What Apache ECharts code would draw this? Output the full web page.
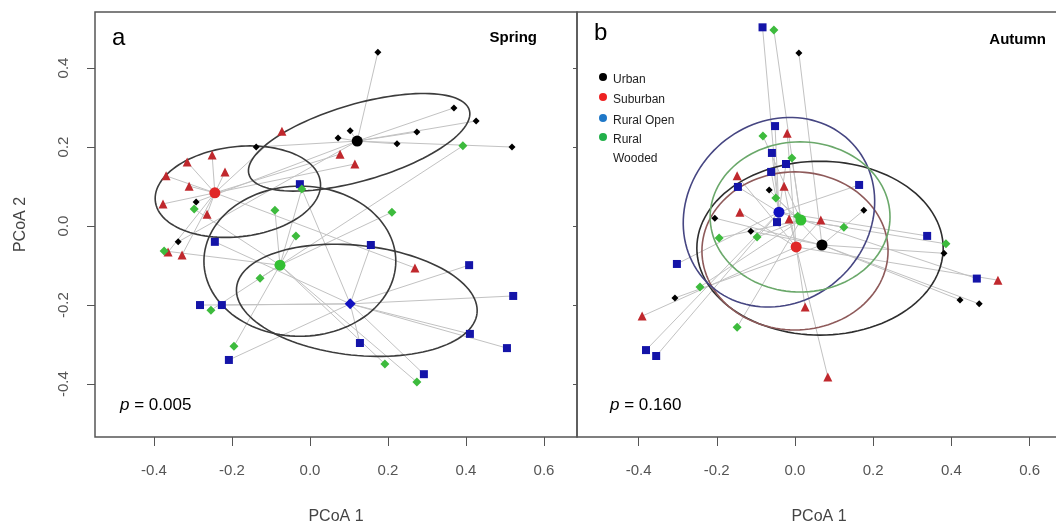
<!DOCTYPE html>
<html>
<head>
<meta charset="utf-8">
<script src="https://cdn.jsdelivr.net/npm/echarts@6/dist/echarts.min.js"></script>
<style>
html, body { margin: 0; padding: 0; background: #fff; }
#chart { width: 1056px; height: 524px; }
</style>
</head>
<body>
<div id="chart"></div>
<script>
const groupNames = ['Urban', 'Suburban', 'Rural Open', 'Rural Wooded'];
const tickValues = [-0.4, -0.2, 0.0, 0.2, 0.4, 0.6];

// spring (a) - [PCoA 1, PCoA 2]
const springUrban = [[0.174, 0.44], [0.369, 0.299], [0.426, 0.266], [0.274, 0.238], [0.103, 0.241], [0.072, 0.223],
  [0.223, 0.208], [0.518, 0.2], [-0.138, 0.2], [-0.292, 0.061], [-0.338, -0.04]];
const springSuburban = [[-0.072, 0.24], [0.077, 0.182], [0.115, 0.157], [-0.251, 0.18], [-0.315, 0.162], [-0.369, 0.127],
  [-0.218, 0.137], [-0.31, 0.101], [-0.377, 0.056], [-0.264, 0.03], [-0.364, -0.066], [-0.328, -0.073], [0.269, -0.106]];
const springRuralOpen = [[-0.026, 0.106], [-0.244, -0.04], [0.156, -0.048], [0.408, -0.099], [0.521, -0.177], [-0.282, -0.2],
  [-0.226, -0.2], [-0.208, -0.339], [0.41, -0.273], [0.505, -0.309], [0.128, -0.296], [0.292, -0.375]];
const springRuralWooded = [[0.392, 0.203], [-0.297, 0.043], [-0.021, 0.094], [-0.09, 0.04], [0.21, 0.035], [-0.036, -0.025],
  [-0.374, -0.063], [-0.128, -0.132], [-0.254, -0.213], [-0.195, -0.304], [0.192, -0.349], [0.274, -0.395]];
const springCentroids = [[0.121, 0.215], [-0.244, 0.084], [0.103, -0.197], [-0.077, -0.099]];
// [cx, cy, semi axis 1, semi axis 2, angle deg]
const springEllipses = [[0.126, 0.212, 0.294, 0.097, 16], [-0.185, 0.087, 0.213, 0.114, 6.5],
  [0.12, -0.188, 0.31, 0.139, -6], [-0.026, -0.089, 0.246, 0.19, 0]];

// autumn (b)
const autumnUrban = [[0.01, 0.438], [-0.066, 0.091], [-0.205, 0.02], [0.176, 0.04], [-0.113, -0.013], [-0.307, -0.182],
  [0.381, -0.069], [0.422, -0.187], [0.471, -0.197]];
const autumnSuburban = [[-0.02, 0.235], [-0.148, 0.127], [-0.028, 0.101], [-0.141, 0.035], [-0.015, 0.018], [0.066, 0.015],
  [0.026, -0.205], [-0.391, -0.228], [0.519, -0.137], [0.084, -0.382]];
const autumnRuralOpen = [[-0.083, 0.503], [-0.051, 0.253], [-0.059, 0.185], [-0.023, 0.157], [-0.061, 0.137], [-0.146, 0.099],
  [-0.046, 0.01], [0.164, 0.104], [-0.302, -0.096], [0.338, -0.025], [0.465, -0.133], [-0.381, -0.314], [-0.355, -0.329]];
const autumnRuralWooded = [[-0.054, 0.496], [-0.082, 0.228], [-0.008, 0.172], [-0.049, 0.071], [0.007, 0.025], [0.125, -0.003],
  [-0.194, -0.03], [-0.097, -0.028], [-0.243, -0.154], [-0.148, -0.256], [0.386, -0.045]];
const autumnCentroids = [[0.069, -0.048], [0.003, -0.053], [-0.041, 0.035], [0.015, 0.015]];
const autumnEllipses = [[0.064, -0.056, 0.315, 0.22, 0], [0.0, -0.063, 0.238, 0.2, 0],
  [-0.041, 0.035, 0.256, 0.228, 40], [0.013, 0.023, 0.23, 0.19, 0]];

const pointSymbols = ['diamond', 'triangle', 'rect', 'diamond'];
const pointSizes = [7, 9, 8, 9];
const pointColors = ['#000000', '#c0282d', '#1414a8', '#3dbb3d'];
const springCentroidSymbols = ['circle', 'circle', 'diamond', 'circle'];
const centroidColors = ['#000000', '#e02828', '#1010c0', '#33c033'];
const springEllColors = ['#3c3c3c', '#3c3c3c', '#3c3c3c', '#3c3c3c'];
const autumnEllColors = ['#2e2e2e', '#8e5a5a', '#464682', '#6aa86a'];

const FONT = "'Liberation Sans Narrow', 'Liberation Sans', Arial, sans-serif";

function panelSeries(idx, groups, centroids, ellipses, ellColors, centSymbols) {
  const series = [];
  // spokes from group centroid to each sample
  const spokes = [];
  groups.forEach((pts, g) => {
    pts.forEach(p => spokes.push({ coords: [centroids[g], p] }));
  });
  series.push({
    type: 'lines', coordinateSystem: 'cartesian2d',
    xAxisIndex: idx, yAxisIndex: idx, silent: true, z: 1,
    lineStyle: { color: '#c2c2c2', width: 1, opacity: 1 },
    data: spokes
  });
  series.push({
    type: 'custom', xAxisIndex: idx, yAxisIndex: idx, silent: true, z: 3, clip: true,
    data: ellipses, encode: { x: 0, y: 1 },
    renderItem: function (params, api) {
      const e = ellipses[params.dataIndex];
      const th = e[4] * Math.PI / 180;
      const pts = [];
      for (let k = 0; k <= 120; k++) {
        const t = 2 * Math.PI * k / 120;
        const u = e[2] * Math.cos(t), v = e[3] * Math.sin(t);
        pts.push(api.coord([e[0] + u * Math.cos(th) - v * Math.sin(th),
                            e[1] + u * Math.sin(th) + v * Math.cos(th)]));
      }
      return {
        type: 'polyline', shape: { points: pts },
        style: { stroke: ellColors[params.dataIndex], fill: null, lineWidth: 1.6 }
      };
    }
  });
  groups.forEach((pts, g) => {
    series.push({
      type: 'scatter', name: groupNames[g], xAxisIndex: idx, yAxisIndex: idx, z: 4,
      symbol: pointSymbols[g], symbolSize: pointSizes[g],
      itemStyle: { color: pointColors[g], opacity: 1 },
      data: pts
    });
  });
  series.push({
    type: 'scatter', xAxisIndex: idx, yAxisIndex: idx, z: 5,
    data: centroids.map((c, g) => ({
      value: c, symbol: centSymbols[g], symbolSize: 11,
      itemStyle: { color: centroidColors[g], opacity: 1 }
    }))
  });
  return series;
}

function xAxisFor(idx, min, max) {
  return {
    type: 'value', gridIndex: idx, min: min, max: max,
    name: 'PCoA 1', nameLocation: 'middle', nameGap: 72,
    nameTextStyle: { color: '#444', fontSize: 16, fontFamily: FONT },
    axisLine: { show: false, onZero: false },
    axisTick: { show: true, length: 9, lineStyle: { color: '#555' }, customValues: tickValues },
    axisLabel: {
      color: '#555', fontSize: 15, fontFamily: FONT, margin: 26,
      customValues: tickValues, formatter: v => v.toFixed(1)
    },
    splitLine: { show: false }
  };
}

function yAxisFor(idx, showLabels) {
  return {
    type: 'value', gridIndex: idx, min: -0.534, max: 0.5418,
    name: showLabels ? 'PCoA 2' : '', nameLocation: 'middle', nameGap: 66, nameRotate: 90,
    nameTextStyle: { color: '#444', fontSize: 16, fontFamily: FONT },
    axisLine: { show: false, onZero: false },
    axisTick: { show: true, length: showLabels ? 8 : 4, lineStyle: { color: '#555' },
      customValues: [-0.4, -0.2, 0.0, 0.2, 0.4] },
    axisLabel: {
      show: showLabels, color: '#555', fontSize: 15, fontFamily: FONT, margin: 24, rotate: 90,
      customValues: [-0.4, -0.2, 0.0, 0.2, 0.4], formatter: v => v.toFixed(1)
    },
    splitLine: { show: false }
  };
}

const legendItems = [
  { label: 'Urban', color: '#000000', y: 77 },
  { label: 'Suburban', color: '#ee2222', y: 97 },
  { label: 'Rural Open', color: '#1f78c8', y: 118 },
  { label: 'Rural\nWooded', color: '#22b04a', y: 137 }
];
const legendGraphics = [];
legendItems.forEach(it => {
  legendGraphics.push({ type: 'circle', shape: { cx: 603, cy: it.y, r: 4 }, style: { fill: it.color } });
  legendGraphics.push({
    type: 'text', x: 613, y: it.y - 7,
    style: { text: it.label, fill: '#222', font: "12px 'Liberation Sans', Arial", lineHeight: 19, textVerticalAlign: 'top' }
  });
});

const chart = echarts.init(document.getElementById('chart'));
const option = {
  animation: false,
  backgroundColor: '#fff',
  grid: [
    { left: 95, top: 12, width: 482, height: 425, show: true, borderColor: '#555', borderWidth: 1.5, outerBoundsMode: 'none' },
    { left: 577, top: 12, width: 484, height: 425, show: true, borderColor: '#555', borderWidth: 1.5, outerBoundsMode: 'none' }
  ],
  xAxis: [xAxisFor(0, -0.5513, 0.6846), xAxisFor(1, -0.5575, 0.6803)],
  yAxis: [yAxisFor(0, true), yAxisFor(1, false)],
  series: [
    ...panelSeries(0, [springUrban, springSuburban, springRuralOpen, springRuralWooded],
      springCentroids, springEllipses, springEllColors, springCentroidSymbols),
    ...panelSeries(1, [autumnUrban, autumnSuburban, autumnRuralOpen, autumnRuralWooded],
      autumnCentroids, autumnEllipses, autumnEllColors, ['circle', 'circle', 'circle', 'circle'])
  ],
  graphic: [
    { type: 'text', x: 112, y: 26, style: { text: 'a', fill: '#000', font: "24px 'Liberation Sans', Arial" } },
    { type: 'text', x: 594, y: 21, style: { text: 'b', fill: '#000', font: "24px 'Liberation Sans', Arial" } },
    { type: 'text', x: 537, y: 30, style: { text: 'Spring', fill: '#000', textAlign: 'right', font: "bold 15px 'Liberation Sans', Arial" } },
    { type: 'text', x: 1046, y: 32, style: { text: 'Autumn', fill: '#000', textAlign: 'right', font: "bold 15px 'Liberation Sans', Arial" } },
    {
      type: 'text', x: 120, y: 397,
      style: {
        text: '{i|p} = 0.005', fill: '#000', font: "17px 'Liberation Sans', Arial",
        rich: { i: { fontStyle: 'italic', fontSize: 17, fontFamily: 'Liberation Sans' } }
      }
    },
    {
      type: 'text', x: 610, y: 397,
      style: {
        text: '{i|p} = 0.160', fill: '#000', font: "17px 'Liberation Sans', Arial",
        rich: { i: { fontStyle: 'italic', fontSize: 17, fontFamily: 'Liberation Sans' } }
      }
    },
    ...legendGraphics
  ]
};
chart.setOption(option);
</script>
</body>
</html>
